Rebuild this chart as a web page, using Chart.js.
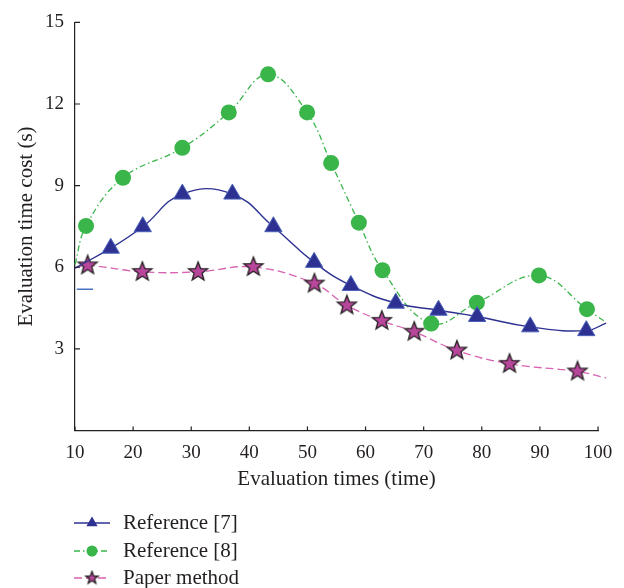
<!DOCTYPE html>
<html>
<head>
<meta charset="utf-8">
<script src="https://cdn.jsdelivr.net/npm/chart.js@4.4.0/dist/chart.umd.min.js"></script>
<style>
  html, body { margin: 0; padding: 0; background: #fff; }
  #wrap { width: 624px; height: 588px; position: relative; }
</style>
</head>
<body>
<div id="wrap"><canvas id="chartJS"></canvas></div>
<script>
// values (first and last x are the unmarked curve ends)
const ref7X = [10, 16.15, 21.66, 28.47, 37.08, 44.14, 51.15, 57.47, 65.2, 72.55, 79.2, 88.34, 97.98, 101.4];
const ref7Y = [5.97, 6.70, 7.49, 8.69, 8.69, 7.49, 6.18, 5.33, 4.68, 4.42, 4.19, 3.81, 3.67, 3.95];

const ref8X = [10, 11.9, 18.26, 28.47, 36.46, 43.23, 49.94, 54.08, 58.85, 62.91, 71.29, 79.16, 89.84, 98.1, 101.4];
const ref8Y = [6.1, 7.52, 9.29, 10.39, 11.69, 13.09, 11.69, 9.83, 7.64, 5.89, 3.93, 4.70, 5.70, 4.46, 3.97];

const paperX = [10, 12.18, 21.59, 31.18, 40.7, 51.2, 56.78, 62.8, 68.37, 75.72, 84.78, 96.48, 101.4];
const paperY = [5.97, 6.07, 5.83, 5.83, 6.01, 5.40, 4.60, 4.03, 3.63, 2.94, 2.45, 2.17, 1.93];

// little stray blue dash near the y axis
const strayX = [10.3, 13.1];
const strayY = [5.19, 5.19];

const xTicks = [10, 20, 30, 40, 50, 60, 70, 80, 90, 100];
const yTicks = [0, 3, 6, 9, 12, 15];

const labels = ['Reference [7]', 'Reference [8]', 'Paper method'];

const serif = 'Liberation Serif';
const ink = '#231f20';

function pts(xs, ys) {
  return xs.map((x, i) => ({ x: x, y: ys[i] }));
}

// filled star with black outline (chart.js 'star' is only a line star)
function makeStar(R) {
  const c = document.createElement('canvas');
  const s = Math.ceil(R * 2 + 4);
  c.width = s; c.height = s;
  const g = c.getContext('2d');
  g.translate(s / 2, s / 2);
  g.beginPath();
  for (let i = 0; i < 10; i++) {
    const r = i % 2 === 0 ? R : R * 0.42;
    const a = -Math.PI / 2 + i * Math.PI / 5;
    g.lineTo(Math.cos(a) * r, Math.sin(a) * r);
  }
  g.closePath();
  g.fillStyle = '#b8479c';
  g.fill();
  g.lineWidth = 1.3;
  g.strokeStyle = ink;
  g.stroke();
  return c;
}
const starBig = makeStar(10);
const starSmall = makeStar(6.5);

function markerRadius(r) {
  return ctx => (ctx.dataIndex === 0 || ctx.dataIndex === ctx.dataset.data.length - 1) ? 0 : r;
}

const config = {
  type: 'line',
  data: {
    datasets: [
      {
        label: labels[0],
        data: pts(ref7X, ref7Y),
        borderColor: '#2e3192',
        borderWidth: 1.4,
        backgroundColor: '#2e3192',
        pointStyle: 'triangle',
        pointRadius: markerRadius(10),
        pointBorderColor: '#4a62b8',
        pointBorderWidth: 1,
        tension: 0.45,
        clip: false
      },
      {
        label: labels[1],
        data: pts(ref8X, ref8Y),
        borderColor: '#39b54a',
        borderWidth: 1.3,
        borderDash: [6, 3, 1.5, 3],
        backgroundColor: '#39b54a',
        pointStyle: 'circle',
        pointRadius: markerRadius(8),
        pointBorderWidth: 0,
        tension: 0.4,
        clip: false
      },
      {
        label: labels[2],
        data: pts(paperX, paperY),
        borderColor: '#d763b1',
        borderWidth: 1.3,
        borderDash: [8, 4],
        pointStyle: starBig,
        pointRadius: markerRadius(10),
        tension: 0.4,
        clip: false
      },
      {
        label: 'stray',
        data: pts(strayX, strayY),
        borderColor: '#4a72c4',
        borderWidth: 1.5,
        pointRadius: 0,
        tension: 0
      }
    ]
  },
  options: {
    animation: false,
    responsive: true,
    maintainAspectRatio: false,
    events: [],
    layout: { padding: { top: 19, right: 26, bottom: 87.5, left: 0 } },
    plugins: {
      legend: { display: false },
      tooltip: { enabled: false }
    },
    scales: {
      x: {
        type: 'linear',
        min: 10,
        max: 100,
        afterBuildTicks: s => { s.ticks = xTicks.map(v => ({ value: v })); },
        afterFit: s => { s.height = 70; },
        ticks: { font: { family: serif, size: 19 }, color: ink, padding: 11, maxRotation: 0 },
        grid: { display: false, drawTicks: false },
        border: { color: ink, width: 1.2 },
        title: {
          display: true,
          text: 'Evaluation times (time)',
          font: { family: serif, size: 21 },
          color: ink,
          padding: { top: 0, bottom: 8.5 }
        }
      },
      y: {
        min: 0,
        max: 15,
        afterBuildTicks: s => { s.ticks = yTicks.map(v => ({ value: v })); },
        afterFit: s => { s.width = 75; },
        ticks: {
          font: { family: serif, size: 19 },
          color: ink,
          padding: 11,
          callback: v => v === 0 ? '' : v
        },
        grid: { display: false, drawTicks: false },
        border: { color: ink, width: 1.2 },
        title: {
          display: true,
          text: 'Evaluation time cost (s)',
          font: { family: serif, size: 21 },
          color: ink,
          padding: { top: 14, bottom: 0 }
        }
      }
    }
  },
  plugins: [{
    id: 'innerTicksAndLegend',
    afterDraw(chart) {
      const c = chart.ctx;
      const xs = chart.scales.x, ys = chart.scales.y;
      const a = chart.chartArea;
      c.save();
      c.strokeStyle = ink;
      c.lineWidth = 1.2;
      c.beginPath();
      xTicks.forEach(v => {
        const px = xs.getPixelForValue(v);
        c.moveTo(px, a.bottom);
        c.lineTo(px, a.bottom - 4);
      });
      yTicks.forEach(v => {
        const py = ys.getPixelForValue(v);
        c.moveTo(a.left, py);
        c.lineTo(a.left + 5, py);
      });
      c.stroke();

      // legend under the plot
      const rowY = [523, 551, 578];
      const x0 = a.left - 1, x1 = a.left + 35, mx = a.left + 17;
      chart.data.datasets.slice(0, 3).forEach((ds, i) => {
        const y = rowY[i];
        c.setLineDash(ds.borderDash || []);
        c.strokeStyle = ds.borderColor;
        c.lineWidth = ds.borderWidth;
        c.beginPath();
        c.moveTo(x0, y);
        c.lineTo(x1, y);
        c.stroke();
        c.setLineDash([]);
        if (i === 0) {
          const r = 6.5;
          c.beginPath();
          c.moveTo(mx, y - r);
          c.lineTo(mx + r * 0.866, y + r * 0.5);
          c.lineTo(mx - r * 0.866, y + r * 0.5);
          c.closePath();
          c.fillStyle = ds.backgroundColor;
          c.fill();
        } else if (i === 1) {
          c.beginPath();
          c.arc(mx, y, 5.5, 0, Math.PI * 2);
          c.fillStyle = ds.backgroundColor;
          c.fill();
        } else {
          c.drawImage(starSmall, mx - starSmall.width / 2, y - starSmall.height / 2);
        }
        c.fillStyle = ink;
        c.font = '21px "' + serif + '"';
        c.textBaseline = 'middle';
        c.textAlign = 'left';
        c.fillText(ds.label, a.left + 48, y);
      });
      c.restore();
    }
  }]
};

new Chart(document.getElementById('chartJS'), config);
</script>
</body>
</html>
